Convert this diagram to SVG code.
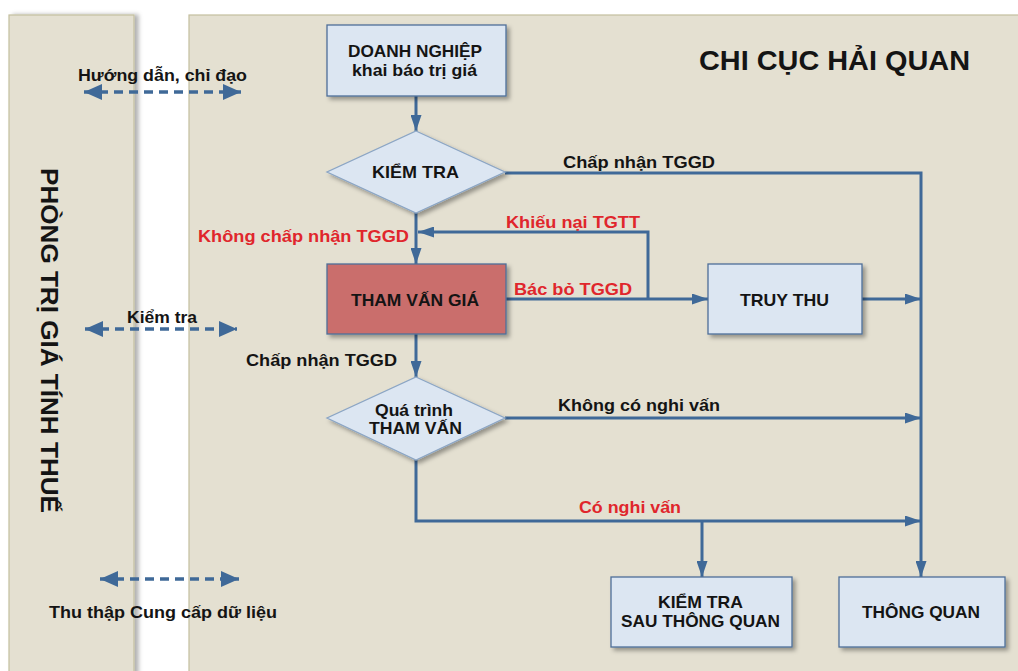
<svg xmlns="http://www.w3.org/2000/svg" width="1018" height="671" viewBox="0 0 1018 671">
<style>
text{font-family:"Liberation Sans",Arial,sans-serif;font-weight:bold;fill:#141414;font-size:17px}
.red{fill:#E0262C}
.panel{fill:#E4E0D1;stroke:#C4BF9E;stroke-width:1.2}
.box{fill:#DCE6F2;stroke:#4E6F98;stroke-width:1.3}
.dia{fill:#DCE6F2;stroke:#8CA6C5;stroke-width:1.3}
.conn{fill:none;stroke:#3F6998;stroke-width:3}
.dash{fill:none;stroke:#3F6998;stroke-width:3.5;stroke-dasharray:9 6}
</style>
<defs>
<filter id="sh" x="-10%" y="-10%" width="130%" height="130%">
<feDropShadow dx="3" dy="3" stdDeviation="2" flood-color="#000" flood-opacity="0.35"/>
</filter>
<filter id="psh" x="-10%" y="-5%" width="120%" height="110%">
<feDropShadow dx="4" dy="0" stdDeviation="2" flood-color="#000" flood-opacity="0.3"/>
</filter>
<marker id="ah" markerUnits="userSpaceOnUse" markerWidth="17" markerHeight="11" refX="16" refY="5.5" orient="auto">
<path d="M0,0 L16,5.5 L0,11 z" fill="#3F6998"/>
</marker>
<marker id="dh" markerUnits="userSpaceOnUse" markerWidth="19" markerHeight="16" refX="18" refY="8" orient="auto-start-reverse">
<path d="M0,0 L18,8 L0,16 z" fill="#3F6998"/>
</marker>
</defs>
<rect width="1018" height="671" fill="#FFFFFF"/>
<g id="panels">
<rect class="panel" x="9" y="15" width="125" height="670" filter="url(#psh)"/>
<rect class="panel" x="189" y="15" width="840" height="670"/>
</g>
<text transform="translate(41,168) rotate(90)" textLength="345" lengthAdjust="spacingAndGlyphs" style="font-size:24px">PHÒNG TRỊ GIÁ TÍNH THUẾ</text>
<text x="699" y="70" style="font-size:28px" textLength="271" lengthAdjust="spacingAndGlyphs">CHI CỤC HẢI QUAN</text>
<g id="side-links">
<line class="dash" x1="84" y1="92" x2="241" y2="92" marker-start="url(#dh)" marker-end="url(#dh)"/>
<text x="78" y="81" textLength="169" lengthAdjust="spacingAndGlyphs">Hướng dẫn, chỉ đạo</text>
<line class="dash" x1="85" y1="329" x2="237" y2="329" marker-start="url(#dh)" marker-end="url(#dh)"/>
<text x="127" y="323" textLength="70" lengthAdjust="spacingAndGlyphs">Kiểm tra</text>
<line class="dash" x1="100" y1="579" x2="239" y2="579" marker-start="url(#dh)" marker-end="url(#dh)"/>
<text x="49" y="618" textLength="228" lengthAdjust="spacingAndGlyphs">Thu thập Cung cấp dữ liệu</text>
</g>
<g id="connectors">
<path class="conn" d="M416,96 V131" marker-end="url(#ah)"/>
<path class="conn" d="M505,173 H921 V577" marker-end="url(#ah)"/>
<path class="conn" d="M416,213 V264" marker-end="url(#ah)"/>
<path class="conn" d="M648,299 V232 H418" marker-end="url(#ah)"/>
<path class="conn" d="M506,299 H708" marker-end="url(#ah)"/>
<path class="conn" d="M862,299 H921" marker-end="url(#ah)"/>
<path class="conn" d="M416,334 V377" marker-end="url(#ah)"/>
<path class="conn" d="M505,418 H921" marker-end="url(#ah)"/>
<path class="conn" d="M416,460 V521 H921" marker-end="url(#ah)"/>
<path class="conn" d="M702,521 V577" marker-end="url(#ah)"/>
</g>
<g id="labels">
<text x="563" y="168" textLength="152" lengthAdjust="spacingAndGlyphs">Chấp nhận TGGD</text>
<text class="red" x="506" y="228" textLength="134" lengthAdjust="spacingAndGlyphs">Khiếu nại TGTT</text>
<text class="red" x="198" y="242" textLength="211" lengthAdjust="spacingAndGlyphs">Không chấp nhận TGGD</text>
<text class="red" x="514" y="295" textLength="118" lengthAdjust="spacingAndGlyphs">Bác bỏ TGGD</text>
<text x="246" y="366" textLength="151" lengthAdjust="spacingAndGlyphs">Chấp nhận TGGD</text>
<text x="558" y="411" textLength="162" lengthAdjust="spacingAndGlyphs">Không có nghi vấn</text>
<text class="red" x="579" y="513" textLength="102" lengthAdjust="spacingAndGlyphs">Có nghi vấn</text>
</g>
<g id="doanh-nghiep">
<rect class="box" x="327" y="25" width="179" height="71" filter="url(#sh)"/>
<text x="348" y="57" textLength="134" lengthAdjust="spacingAndGlyphs">DOANH NGHIỆP</text>
<text x="352" y="76" textLength="125" lengthAdjust="spacingAndGlyphs">khai báo trị giá</text>
</g>
<g id="kiem-tra">
<polygon class="dia" points="416,131 505,172 416,213 327,172" filter="url(#sh)"/>
<text x="372" y="178" textLength="87" lengthAdjust="spacingAndGlyphs">KIỂM TRA</text>
</g>
<g id="tham-van-gia">
<rect x="327" y="264" width="179" height="70" fill="#CA6E6C" stroke="#4E6F98" stroke-width="1.3" filter="url(#sh)"/>
<text x="351" y="306" textLength="128" lengthAdjust="spacingAndGlyphs">THAM VẤN GIÁ</text>
</g>
<g id="truy-thu">
<rect class="box" x="708" y="264" width="154" height="70" filter="url(#sh)"/>
<text x="740" y="306" textLength="89" lengthAdjust="spacingAndGlyphs">TRUY THU</text>
</g>
<g id="qua-trinh-tham-van">
<polygon class="dia" points="416,377 505,418 416,460 327,418" filter="url(#sh)"/>
<text x="375" y="416" textLength="78" lengthAdjust="spacingAndGlyphs">Quá trình</text>
<text x="369" y="434" textLength="93" lengthAdjust="spacingAndGlyphs">THAM VẤN</text>
</g>
<g id="kiem-tra-sau-thong-quan">
<rect class="box" x="611" y="577" width="181" height="70" filter="url(#sh)"/>
<text x="658" y="608" textLength="85" lengthAdjust="spacingAndGlyphs">KIỂM TRA</text>
<text x="621" y="627" textLength="159" lengthAdjust="spacingAndGlyphs">SAU THÔNG QUAN</text>
</g>
<g id="thong-quan">
<rect class="box" x="839" y="577" width="166" height="70" filter="url(#sh)"/>
<text x="862" y="618" textLength="118" lengthAdjust="spacingAndGlyphs">THÔNG QUAN</text>
</g>
</svg>
